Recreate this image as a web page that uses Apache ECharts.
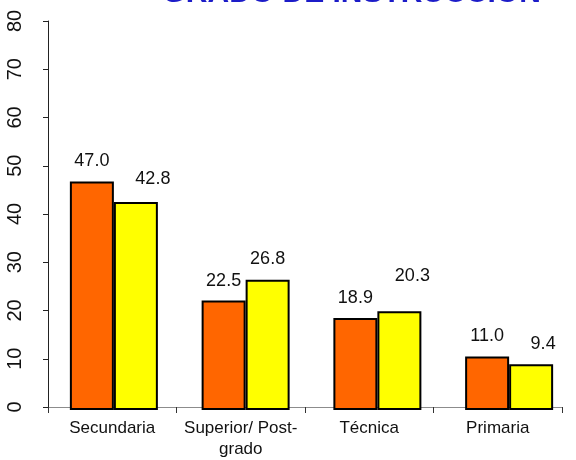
<!DOCTYPE html>
<html>
<head>
<meta charset="utf-8">
<script src="https://cdn.jsdelivr.net/npm/echarts@6/dist/echarts.min.js"></script>
<style>
html,body{margin:0;padding:0;background:#fff;}
#c{width:576px;height:460px;}
</style>
</head>
<body>
<div id="c"></div>
<script>
var titleText = 'GRADO DE INSTRUCCIÓN';
var categories = ['Secundaria', 'Superior/ Post-\ngrado', 'Técnica', 'Primaria'];
var seriesA = [47.0, 22.5, 18.9, 11.0];
var seriesB = [42.8, 26.8, 20.3, 9.4];
var yTicks = [0, 10, 20, 30, 40, 50, 60, 70, 80];

// label nudges (style only)
var labelNudgeB = [[17, -3], [0, -1], [13, -15], [12, 0]];

var chart = echarts.init(document.getElementById('c'));
var font = 'Arial, "Liberation Sans", sans-serif';

function mkData(vals, nudges) {
  return vals.map(function (v, i) {
    var o = { value: v };
    if (nudges) o.label = { offset: nudges[i] };
    return o;
  });
}

var yMin = yTicks[0], yMax = yTicks[yTicks.length - 1];
var labelStyle = { show: true, position: 'top', distance: 11, color: '#111', fontFamily: font, fontSize: 18,
  formatter: function (p) { return p.value.toFixed(1); } };

chart.setOption({
  animation: false,
  backgroundColor: '#fff',
  graphic: [{
    type: 'text',
    left: 162,
    top: -22,
    z: 10,
    style: {
      text: titleText,
      font: 'bold 30px ' + font,
      fill: '#1c1cc8',
      stroke: '#ffffff',
      lineWidth: 1,
      shadowColor: 'rgba(0,0,0,0.45)',
      shadowBlur: 2,
      shadowOffsetX: 2,
      shadowOffsetY: 2
    }
  }],
  grid: [
    { left: 48, right: 14, top: 21, bottom: 50 },
    { left: 48, right: 1, top: 21, bottom: 50 }
  ],
  xAxis: [{
    type: 'category',
    gridIndex: 0,
    data: categories,
    axisLine: { show: true, lineStyle: { color: '#8c8c8c', width: 1 } },
    axisTick: { show: true, alignWithLabel: false, length: 6, lineStyle: { color: '#333' } },
    axisLabel: { color: '#111', fontFamily: font, fontSize: 17, margin: 11, lineHeight: 21, interval: 0 }
  }, {
    type: 'category',
    gridIndex: 1,
    data: categories,
    show: false
  }],
  yAxis: [{
    type: 'value',
    gridIndex: 0,
    min: yMin,
    max: yMax,
    interval: 10,
    splitLine: { show: false },
    axisLine: { show: true, lineStyle: { color: '#222', width: 1 } },
    axisTick: { show: true, length: 5, lineStyle: { color: '#222' } },
    axisLabel: { color: '#111', fontFamily: font, fontSize: 20, rotate: 90, margin: 23 }
  }, {
    type: 'value',
    gridIndex: 1,
    min: yMin,
    max: yMax,
    interval: 10,
    show: false,
    splitLine: { show: false }
  }],
  series: [{
    type: 'bar',
    xAxisIndex: 1,
    yAxisIndex: 1,
    data: mkData(seriesA),
    barWidth: 44,
    barGap: '0%',
    itemStyle: { color: '#ff6600', borderColor: '#000', borderWidth: 2 },
    label: labelStyle
  }, {
    type: 'bar',
    xAxisIndex: 1,
    yAxisIndex: 1,
    data: mkData(seriesB, labelNudgeB),
    barWidth: 44,
    barGap: '0%',
    itemStyle: { color: '#ffff00', borderColor: '#000', borderWidth: 2 },
    label: labelStyle
  }]
});
</script>
</body>
</html>
